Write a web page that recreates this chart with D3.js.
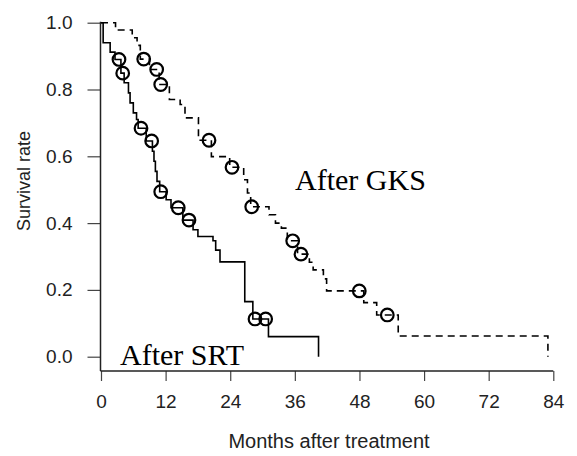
<!DOCTYPE html>
<html>
<head>
<meta charset="utf-8">
<script src="https://cdn.jsdelivr.net/npm/d3@7"></script>
<style>
body{margin:0;background:#fff;}
</style>
</head>
<body>
<script>
// SRT curve (solid): step times and survival after each step
var srtTime=[0,0.4,1.7,2.6,3.7,4.3,5.1,5.4,6.0,6.6,6.9,8.4,9.55,9.84,10.1,10.4,10.9,12.1,13.0,15.2,17.1,18.0,20.8,21.3,22.1,26.7,28.2,31.1,40.4];
var srtSurv=[1,0.94,0.912,0.89,0.849,0.82,0.79,0.76,0.73,0.71,0.684,0.646,0.615,0.585,0.555,0.525,0.494,0.47,0.446,0.409,0.38,0.36,0.347,0.319,0.284,0.165,0.113,0.06,0];
var srtCensor=[3.34,4.03,7.43,9.41,11.09,14.35,16.34,28.6,30.58];

// GKS curve (dashed)
var gksTime=[0,2.7,5.8,6.7,7.3,9.0,10.8,12.7,14.7,15.6,18.1,20.5,23.9,26.5,27.2,27.8,31.2,32.4,33.5,34.6,36.5,38.7,39.4,41.3,41.9,48.8,51.2,55.2,83.0];
var gksSurv=[1,0.978,0.955,0.932,0.891,0.86,0.815,0.77,0.755,0.715,0.648,0.599,0.567,0.53,0.49,0.449,0.425,0.4,0.385,0.347,0.307,0.283,0.26,0.233,0.197,0.162,0.125,0.062,0];
var gksCensor=[7.93,10.34,11.09,20.06,24.33,27.99,35.6,37.14,47.97,53.17];

var xTicks=[0,12,24,36,48,60,72,84];
var yTicks=[0,0.2,0.4,0.6,0.8,1.0];

var width=577;
var height=456;

var svg=d3.select("body").append("svg")
          .attr("width",width)
          .attr("height",height);

var x=d3.scaleLinear().domain([0,84]).range([101,553.3]);
var y=d3.scaleLinear().domain([0,1]).range([356.7,22.7]);
var axisY=371;

var toPoints=function(times,surv){
  return times.map(function(t,i){ return [t,surv[i]]; });
};
var survAt=function(times,surv,t){
  var s=surv[0];
  for(var i=0;i<times.length;i++){
    if(times[i]<=t) s=surv[i];
  }
  return s;
};

// axes
var yAxis=d3.axisLeft(y).tickValues(yTicks).tickSize(13).tickPadding(15)
            .tickFormat(d3.format(".1f"));
var gy=svg.append("g").attr("transform","translate(100.5,0)").call(yAxis);
gy.select(".domain").remove();
gy.selectAll(".tick line").attr("stroke","#444").attr("stroke-width",1.2);
gy.selectAll(".tick text").attr("font-family","Liberation Sans, Arial, sans-serif")
  .attr("font-size",19).attr("fill","#222");

var xAxis=d3.axisBottom(x).tickValues(xTicks).tickSize(10).tickPadding(14);
var gx=svg.append("g").attr("transform","translate(0,"+axisY+")").call(xAxis);
gx.select(".domain").remove();
gx.selectAll(".tick line").attr("stroke","#444").attr("stroke-width",1.2);
gx.selectAll(".tick text").attr("font-family","Liberation Sans, Arial, sans-serif")
  .attr("font-size",19).attr("fill","#222");

svg.append("line")
   .attr("x1",100.5).attr("x2",100.5)
   .attr("y1",y(1)-1).attr("y2",axisY)
   .attr("stroke","#222").attr("stroke-width",1.5);
svg.append("line")
   .attr("x1",100.5).attr("x2",x(84))
   .attr("y1",axisY).attr("y2",axisY)
   .attr("stroke","#222").attr("stroke-width",1.5);

// titles
svg.append("text")
   .text("Months after treatment")
   .attr("x",329).attr("y",448)
   .attr("text-anchor","middle")
   .attr("font-family","Liberation Sans, Arial, sans-serif")
   .attr("font-size",20).attr("fill","#222");
svg.append("text")
   .text("Survival rate")
   .attr("transform","translate(30,181) rotate(-90)")
   .attr("text-anchor","middle")
   .attr("font-family","Liberation Sans, Arial, sans-serif")
   .attr("font-size",18).attr("fill","#222");

// curves
var line=d3.line()
           .x(function(d){ return x(d[0]); })
           .y(function(d){ return y(d[1]); })
           .curve(d3.curveStepAfter);

svg.append("path")
   .datum(toPoints(srtTime,srtSurv))
   .attr("d",line)
   .attr("fill","none")
   .attr("stroke","#000")
   .attr("stroke-width",1.6);

svg.append("path")
   .datum(toPoints(gksTime,gksSurv))
   .attr("d",line)
   .attr("fill","none")
   .attr("stroke","#000")
   .attr("stroke-width",1.6)
   .attr("stroke-dasharray","7,5");

// censor marks
svg.selectAll("circle.srt")
   .data(srtCensor)
   .enter()
   .append("circle")
   .attr("class","srt")
   .attr("cx",function(d){ return x(d); })
   .attr("cy",function(d){ return y(survAt(srtTime,srtSurv,d)); })
   .attr("r",6.3)
   .attr("fill","none")
   .attr("stroke","#000")
   .attr("stroke-width",2.2);

svg.selectAll("circle.gks")
   .data(gksCensor)
   .enter()
   .append("circle")
   .attr("class","gks")
   .attr("cx",function(d){ return x(d); })
   .attr("cy",function(d){ return y(survAt(gksTime,gksSurv,d)); })
   .attr("r",6.3)
   .attr("fill","none")
   .attr("stroke","#000")
   .attr("stroke-width",2.2);

// labels
svg.append("text")
   .text("After GKS")
   .attr("x",295).attr("y",190)
   .attr("font-family","Liberation Serif, Times New Roman, serif")
   .attr("font-size",30).attr("fill","#000");
svg.append("text")
   .text("After SRT")
   .attr("x",120).attr("y",365)
   .attr("font-family","Liberation Serif, Times New Roman, serif")
   .attr("font-size",30).attr("fill","#000");
</script>
</body>
</html>
